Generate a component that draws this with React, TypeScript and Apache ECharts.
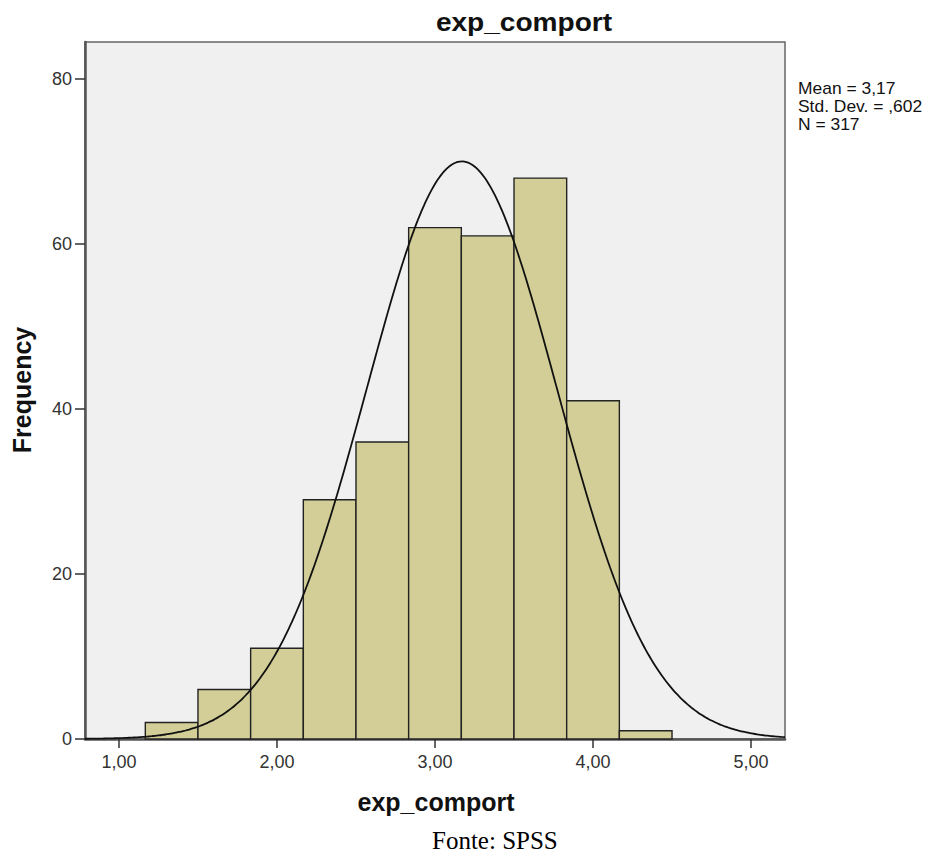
import React, { useEffect, useRef } from "react";
import * as echarts from "echarts";

const binStarts = [1.1667, 1.5, 1.8333, 2.1667, 2.5, 2.8333, 3.1667, 3.5, 3.8333, 4.1667];
const binEnds = [1.5, 1.8333, 2.1667, 2.5, 2.8333, 3.1667, 3.5, 3.8333, 4.1667, 4.5];
const frequencies = [2, 6, 11, 29, 36, 62, 61, 68, 41, 1];
const xTickValues = [1, 2, 3, 4, 5];
const yTickValues = [0, 20, 40, 60, 80];
const statLines = ["Mean = 3,17", "Std. Dev. = ,602", "N = 317"];
const MEAN = 3.17;
const SD = 0.602;
const N = 317;
const BIN_WIDTH = 1 / 3;
const X_MIN = 0.785;
const X_MAX = 5.215;

const fmt = (v: number) => v.toFixed(2).replace(".", ",");

export default function App() {
  const ref = useRef<HTMLDivElement>(null);
  useEffect(() => {
    if (!ref.current) return;
    const chart = echarts.init(ref.current, null, { renderer: "svg" });
    const curve: number[][] = [];
    const steps = 200;
    for (let i = 0; i <= steps; i++) {
      const x = X_MIN + ((X_MAX - X_MIN) * i) / steps;
      const z = (x - MEAN) / SD;
      const y = ((N * BIN_WIDTH) / (SD * Math.sqrt(2 * Math.PI))) * Math.exp(-0.5 * z * z);
      curve.push([x, y]);
    }
    const bars = frequencies.map((f, i) => [binStarts[i], binEnds[i], f]);
    const font = "'Liberation Sans', Arial, sans-serif";
    const statTexts = statLines.map((t, i) => ({
      type: "text",
      x: 798,
      y: 89 + i * 18,
      scaleX: 1.09,
      style: { text: t, font: `16px ${font}`, fill: "#111", verticalAlign: "middle" },
    }));
    chart.setOption({
      animation: false,
      backgroundColor: "#ffffff",
      grid: {
        left: 85,
        top: 42,
        width: 700,
        height: 697,
        show: true,
        backgroundColor: "#f0f0f0",
        borderColor: "#666666",
        borderWidth: 1.5,
      },
      xAxis: {
        type: "value",
        min: X_MIN,
        max: X_MAX,
        splitLine: { show: false },
        axisLine: { show: true, onZero: false, lineStyle: { color: "#555", width: 2.5 } },
        axisTick: { show: true, length: 9, customValues: xTickValues, lineStyle: { color: "#333", width: 1.5 } },
        axisLabel: {
          customValues: xTickValues,
          formatter: (v: number) => fmt(v),
          color: "#333",
          fontFamily: font,
          fontSize: 18,
          margin: 14,
        },
      },
      yAxis: {
        type: "value",
        min: 0,
        max: 84.5,
        interval: 20,
        splitLine: { show: false },
        axisLine: { show: true, lineStyle: { color: "#555", width: 2.5 } },
        axisTick: { show: true, length: 10, customValues: yTickValues, lineStyle: { color: "#333", width: 1.5 } },
        axisLabel: {
          customValues: yTickValues,
          color: "#333",
          fontFamily: font,
          fontSize: 18,
          margin: 13,
        },
      },
      graphic: [
        {
          type: "text",
          x: 524,
          y: 22,
          scaleX: 1.08,
          style: { text: "exp_comport", font: `bold 26px ${font}`, fill: "#111", align: "center", verticalAlign: "middle" },
        },
        {
          type: "text",
          x: 436,
          y: 802,
          style: { text: "exp_comport", font: `bold 25px ${font}`, fill: "#111", align: "center", verticalAlign: "middle" },
        },
        {
          type: "text",
          x: 22,
          y: 390,
          rotation: Math.PI / 2,
          style: { text: "Frequency", font: `bold 25px ${font}`, fill: "#111", align: "center", verticalAlign: "middle" },
        },
        ...statTexts,
        {
          type: "text",
          x: 432,
          y: 840,
          style: { text: "Fonte: SPSS", font: "25px 'Liberation Serif', 'Times New Roman', serif", fill: "#000", align: "left", verticalAlign: "middle" },
        },
      ],
      series: [
        {
          type: "custom",
          data: bars,
          encode: { x: [0, 1], y: 2 },
          renderItem: (params: any, api: any) => {
            const s = api.coord([api.value(0), api.value(2)]);
            const e = api.coord([api.value(1), 0]);
            return {
              type: "rect",
              shape: { x: s[0], y: s[1], width: e[0] - s[0], height: e[1] - s[1] },
              style: { fill: "#d3ce97", stroke: "#222", lineWidth: 1.4 },
            };
          },
          z: 2,
        },
        {
          type: "line",
          data: curve,
          showSymbol: false,
          symbol: "none",
          smooth: true,
          lineStyle: { color: "#111", width: 1.8 },
          z: 3,
        },
      ],
    });
    return () => chart.dispose();
  }, []);
  return (
    <div
      ref={ref}
      style={{ position: "fixed", left: 0, top: 0, width: 932, height: 852 }}
    />
  );
}
